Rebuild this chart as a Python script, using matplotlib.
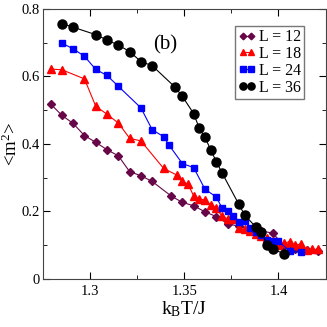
import matplotlib
matplotlib.use("Agg")
import matplotlib.pyplot as plt
from matplotlib.ticker import MultipleLocator, FuncFormatter

plt.rcParams['font.family'] = ['Liberation Serif', 'DejaVu Serif']
plt.rcParams['mathtext.fontset'] = 'custom'
plt.rcParams['mathtext.rm'] = 'Liberation Serif'
plt.rcParams['mathtext.it'] = 'Liberation Serif'

# L = 12
x12 = [1.279, 1.285, 1.291, 1.297, 1.303, 1.309, 1.315, 1.321, 1.327, 1.333,
       1.343, 1.349, 1.355, 1.361, 1.367, 1.373, 1.379, 1.385, 1.391, 1.397,
       1.403, 1.409, 1.415, 1.421]
y12 = [0.519, 0.485, 0.461, 0.425, 0.405, 0.383, 0.365, 0.318, 0.306, 0.289,
       0.246, 0.227, 0.217, 0.199, 0.185, 0.164, 0.156, 0.148, 0.142, 0.136,
       0.098, 0.090, 0.085, 0.083]
# L = 18
x18 = [1.279, 1.285, 1.297, 1.303, 1.309, 1.315, 1.321, 1.327, 1.339, 1.346,
       1.349, 1.352, 1.355, 1.358, 1.361, 1.364, 1.367, 1.370, 1.373, 1.376,
       1.379, 1.382, 1.385, 1.388, 1.391, 1.394, 1.397, 1.400, 1.403, 1.406,
       1.409, 1.412, 1.415, 1.418, 1.421]
y18 = [0.622, 0.620, 0.593, 0.512, 0.488, 0.462, 0.417, 0.409, 0.328, 0.308,
       0.289, 0.281, 0.246, 0.237, 0.234, 0.219, 0.210, 0.186, 0.178, 0.177,
       0.150, 0.147, 0.141, 0.134, 0.128, 0.120, 0.112, 0.101, 0.106, 0.111,
       0.100, 0.104, 0.086, 0.088, 0.088]
# L = 24
x24 = [1.285, 1.291, 1.297, 1.303, 1.309, 1.315, 1.327, 1.333, 1.339, 1.342,
       1.349, 1.355, 1.361, 1.367, 1.370, 1.373, 1.376, 1.379, 1.382, 1.385,
       1.388, 1.391, 1.394, 1.397, 1.400, 1.406, 1.412]
y24 = [0.699, 0.682, 0.660, 0.621, 0.603, 0.571, 0.507, 0.442, 0.422, 0.396,
       0.342, 0.330, 0.266, 0.243, 0.211, 0.201, 0.186, 0.170, 0.171, 0.152,
       0.140, 0.129, 0.116, 0.112, 0.112, 0.082, 0.079]
# L = 36
x36 = [1.285, 1.291, 1.303, 1.309, 1.315, 1.321, 1.327, 1.333, 1.345, 1.349,
       1.355, 1.358, 1.361, 1.364, 1.367, 1.370, 1.379, 1.382, 1.388, 1.391,
       1.394, 1.397, 1.403]
y36 = [0.757, 0.746, 0.724, 0.708, 0.693, 0.674, 0.644, 0.632, 0.569, 0.541,
       0.490, 0.446, 0.420, 0.383, 0.348, 0.315, 0.221, 0.190, 0.154, 0.138,
       0.102, 0.088, 0.075]

fig = plt.figure(figsize=(3.27, 3.27), dpi=100)
ax = fig.add_axes([0.1315, 0.1468, 0.864, 0.8257])

ax.plot(x12, y12, '-D', color='#670748', ms=4.2, lw=0.8, label='L = 12')
ax.plot(x18, y18, '-^', color='#ff0000', ms=5.5, lw=0.8, label='L = 18')
ax.plot(x24, y24, '-s', color='#0000ff', ms=5, lw=0.8, label='L = 24')
ax.plot(x36, y36, '-o', color='black', ms=6.5, lw=0.8, label='L = 36')

ax.set_xlim(1.275, 1.425)
ax.set_ylim(0, 0.8)
ax.xaxis.set_major_locator(MultipleLocator(0.05))
ax.xaxis.set_minor_locator(MultipleLocator(0.025))
ax.yaxis.set_major_locator(MultipleLocator(0.2))
ax.yaxis.set_minor_locator(MultipleLocator(0.1))
ax.xaxis.set_major_formatter(FuncFormatter(lambda v, p: ('%g' % round(v, 3))))
ax.yaxis.set_major_formatter(FuncFormatter(lambda v, p: ('%g' % round(v, 3))))
ax.tick_params(which='both', direction='in', top=True, right=True, labelsize=10.5)
ax.tick_params(axis='y', pad=2)
ax.tick_params(axis='x', pad=4)
ax.tick_params(which='major', length=5)
ax.tick_params(which='minor', length=3)
for s in ax.spines.values():
    s.set_color('#444444')

ax.set_xlabel(r'k$_\mathrm{B}$T/J', fontsize=14, labelpad=1)
ax.set_ylabel(r'<m$^2$>', fontsize=13.5)
ax.yaxis.set_label_coords(-0.078, 0.5)
ax.text(0.432, 0.867, '(b)', transform=ax.transAxes, fontsize=15,
        ha='center', va='center')

leg = ax.legend(loc='upper right', bbox_to_anchor=(0.924, 0.937), fontsize=11.5,
                numpoints=2, markerscale=0.8, handlelength=1.1,
                handletextpad=0.2, labelspacing=0.05, borderpad=0.2,
                borderaxespad=0, fancybox=False, framealpha=1)
leg.get_frame().set_edgecolor('#777777')

fig.savefig('out.png', dpi=100)
